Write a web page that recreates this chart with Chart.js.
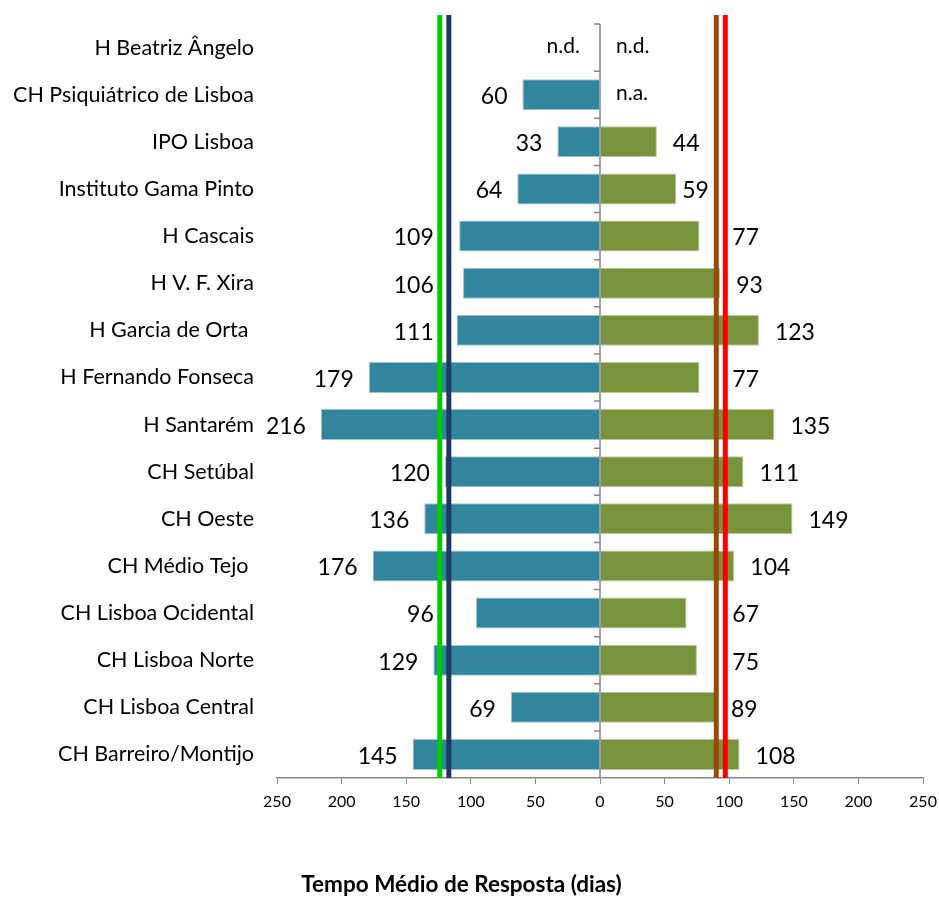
<!DOCTYPE html>
<html>
<head>
<title>Tempo Medio de Resposta</title>
<script src="https://cdn.jsdelivr.net/npm/chart.js@4/dist/chart.umd.min.js"></script>
<style>
body { margin:0; background:#fff; }
</style>
</head>
<body>
<div style="width:939px;height:898px;">
<canvas id="bars"></canvas>
</div>

<script>
var hospitals = ['H Beatriz Ângelo', 'CH Psiquiátrico de Lisboa', 'IPO Lisboa', 'Instituto Gama Pinto',
	'H Cascais', 'H V. F. Xira', 'H Garcia de Orta ', 'H Fernando Fonseca', 'H Santarém', 'CH Setúbal',
	'CH Oeste', 'CH Médio Tejo ', 'CH Lisboa Ocidental', 'CH Lisboa Norte', 'CH Lisboa Central', 'CH Barreiro/Montijo'];
// left side (drawn to the left of zero)
var leftValues = [null, 60, 33, 64, 109, 106, 111, 179, 216, 120, 136, 176, 96, 129, 69, 145];
var rightValues = [null, null, 44, 59, 77, 93, 123, 77, 135, 111, 149, 104, 67, 75, 89, 108];
var leftNotes = ['n.d.', '', '', '', '', '', '', '', '', '', '', '', '', '', '', ''];
var rightNotes = ['n.d.', 'n.a.', '', '', '', '', '', '', '', '', '', '', '', '', '', ''];
// reference lines (left ones are on the negative side)
var refValues = [-124, -117, 90, 97];
var refColors = ['#00CC00', '#1F3864', '#984807', '#FF0000'];
var xTicks = [-250, -200, -150, -100, -50, 0, 50, 100, 150, 200, 250];

var FONT = 'Lato, "Open Sans", sans-serif';

var overlay = {
	id: 'overlay',
	afterDatasetsDraw: function(chart) {
		var c = chart.ctx, xs = chart.scales.x, ys = chart.scales.y, area = chart.chartArea;
		c.save();
		// reference lines
		var refPx = [];
		for (var i = 0; i < refValues.length; i++) {
			var px = xs.getPixelForValue(refValues[i]);
			refPx.push(px);
			c.strokeStyle = refColors[i];
			c.lineWidth = 5;
			c.beginPath();
			c.moveTo(px, area.top - 9);
			c.lineTo(px, area.bottom);
			c.stroke();
		}
		// bands covered by the line pairs, labels keep out of them
		var leftBand = [Math.min(refPx[0], refPx[1]) - 3, Math.max(refPx[0], refPx[1]) + 3];
		var rightBand = [Math.min(refPx[2], refPx[3]) - 3, Math.max(refPx[2], refPx[3]) + 3];
		function hits(a, b, band) { return b > band[0] && a < band[1]; }

		// category axis at zero
		var x0 = xs.getPixelForValue(0);
		c.strokeStyle = '#868686';
		c.lineWidth = 1.5;
		c.beginPath();
		c.moveTo(x0, area.top);
		c.lineTo(x0, area.bottom);
		var step = (area.bottom - area.top) / hospitals.length;
		for (var k = 0; k < hospitals.length; k++) {
			var ty = area.top + k * step;
			c.moveTo(x0 - 6, ty);
			c.lineTo(x0, ty);
		}
		c.stroke();
		// value labels
		c.fillStyle = '#000';
		c.textBaseline = 'middle';
		for (var j = 0; j < hospitals.length; j++) {
			var y = ys.getPixelForValue(j) + 2;
			c.font = '23px ' + FONT;
			if (leftValues[j] != null) {
				var t = String(leftValues[j]), w = c.measureText(t).width;
				var end = xs.getPixelForValue(-leftValues[j]);
				var r = end - 15;
				if (hits(r - w, r, leftBand)) {
					r = end - 6;
					if (hits(r - w, r, leftBand)) r = leftBand[0] - 3;
				}
				c.textAlign = 'right';
				c.fillText(t, r, y);
			}
			if (rightValues[j] != null) {
				var t2 = String(rightValues[j]), w2 = c.measureText(t2).width;
				var end2 = xs.getPixelForValue(rightValues[j]);
				var l = end2 + 16;
				if (hits(l, l + w2, rightBand)) {
					l = end2 + 6;
					if (hits(l, l + w2, rightBand)) l = rightBand[1] + 4;
				}
				c.textAlign = 'left';
				c.fillText(t2, l, y);
			}
			c.font = '21px ' + FONT;
			if (leftNotes[j]) {
				c.textAlign = 'right';
				c.fillText(leftNotes[j], x0 - 20, y - 3);
			}
			if (rightNotes[j]) {
				c.textAlign = 'left';
				c.fillText(rightNotes[j], x0 + 16, y - 3);
			}
		}
		c.restore();
	}
};

var ctx = document.getElementById('bars').getContext('2d');
var chart = new Chart(ctx, {
	type: 'bar',
	data: {
		labels: hospitals,
		datasets: [
			{
				label: 'left',
				data: leftValues.map(function(v) { return v == null ? null : -v; }),
				backgroundColor: '#31859C',
				borderColor: '#9DC3D0',
				borderWidth: 1,
				barPercentage: 0.66,
				categoryPercentage: 1
			},
			{
				label: 'right',
				data: rightValues,
				backgroundColor: '#77933C',
				borderColor: '#B5C99A',
				borderWidth: 1,
				barPercentage: 0.66,
				categoryPercentage: 1
			}
		]
	},
	options: {
		indexAxis: 'y',
		responsive: true,
		maintainAspectRatio: false,
		animation: false,
		layout: { padding: { top: 24, right: 16, left: 0, bottom: 0 } },
		plugins: {
			legend: { display: false },
			tooltip: { enabled: false },
			title: {
				display: true,
				position: 'bottom',
				text: 'Tempo Médio de Resposta (dias)',
				color: '#000',
				font: { family: FONT, size: 22.5, weight: 'bold' },
				padding: { top: 35, bottom: 0 }
			}
		},
		scales: {
			x: {
				stacked: true,
				min: -250,
				max: 250,
				afterBuildTicks: function(s) { s.ticks = xTicks.map(function(v) { return { value: v }; }); },
				afterFit: function(s) { s.height = 58; s.paddingLeft = 0; s.paddingRight = 0; },
				grid: { drawOnChartArea: false, drawTicks: true, tickLength: 6, color: '#868686' },
				border: { display: true, color: '#868686', width: 1.5 },
				ticks: {
					color: '#000',
					font: { family: FONT, size: 16 },
					padding: 8,
					maxRotation: 0,
					callback: function(v) { return Math.abs(v); }
				}
			},
			y: {
				stacked: true,
				afterFit: function(s) { s.width = 277; s.paddingTop = 0; s.paddingBottom = 0; },
				grid: { display: false },
				border: { display: false },
				ticks: {
					color: '#000',
					font: { family: FONT, size: 21.5 },
					padding: 15
				}
			}
		}
	},
	plugins: [overlay]
});
</script>
</body>
</html>
